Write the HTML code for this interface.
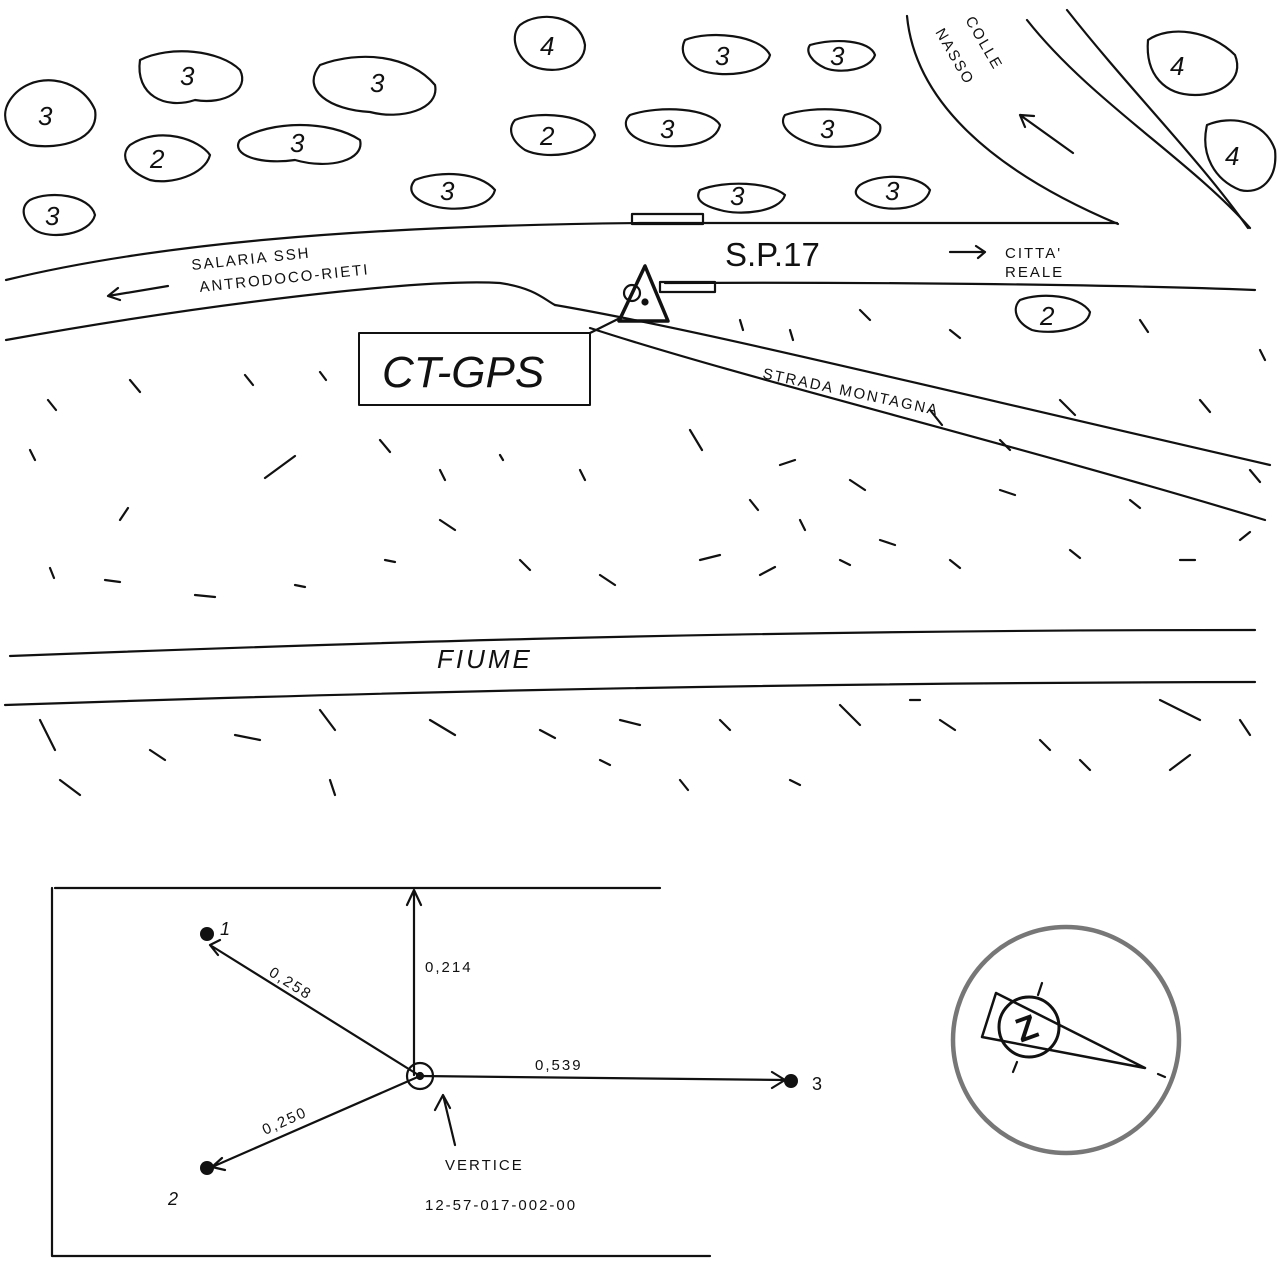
<!DOCTYPE html>
<html><head><meta charset="utf-8"><style>
html,body{margin:0;padding:0;background:#fff}
svg{display:block}
text{font-family:"Liberation Sans",sans-serif;fill:#111}
.h{font-family:"Liberation Sans",sans-serif;font-size:15px;letter-spacing:2px}
.t{font-family:"Liberation Sans",sans-serif;font-size:26px;font-style:italic}
</style></head><body>
<svg width="1288" height="1275" viewBox="0 0 1288 1275" xmlns="http://www.w3.org/2000/svg">
<g fill="none" stroke="#111" stroke-width="2.2" stroke-linecap="round" stroke-linejoin="round">
<path d="M6,280 C150,245 350,226 640,223 L1117,223"/>
<path d="M6,340 C200,305 420,278 500,283 C535,288 545,300 555,305"/>
<path d="M665,283 C850,282 1100,284 1255,290"/>
<rect x="632" y="214" width="71" height="10"/>
<rect x="660" y="282" width="55" height="10"/>
<path d="M555,305 C700,330 900,380 1270,465"/>
<path d="M590,328 C750,380 1000,440 1265,520"/>
<path d="M645,266 L619,321 L668,321 Z" stroke-width="3.5"/>
<circle cx="645" cy="302" r="2.5" fill="#111"/>
<circle cx="632" cy="293" r="8"/>
<line x1="590" y1="333" x2="622" y2="317"/>
<rect x="359" y="333" width="231" height="72" stroke-width="2"/>
<path d="M907,16 C915,100 990,170 1118,224"/>
<path d="M1027,20 C1090,100 1190,160 1250,228"/>
<path d="M1067,10 C1130,90 1200,160 1248,228"/>
<path d="M1073,153 L1020,115 M1020,115 L1034,116 M1020,115 L1025,127"/>
<path d="M950,252 L985,252 M976,246 L985,252 L978,258"/>
<path d="M108,296 L168,286 M118,288 L108,296 L120,300"/>
<path d="M10,656 C300,645 700,630 1255,630"/>
<path d="M5,705 C300,695 700,683 1255,682"/>
<path d="M10,100 C30,70 80,75 95,110 C100,140 60,150 30,145 C5,135 0,115 10,100Z"/>
<path d="M140,60 C170,45 220,50 240,70 C250,90 225,105 195,100 C165,110 135,95 140,60Z"/>
<path d="M320,65 C360,50 410,55 435,85 C440,110 400,120 370,112 C330,110 300,90 320,65Z"/>
<path d="M130,145 C160,125 200,140 210,155 C205,175 170,185 150,180 C125,170 120,155 130,145Z"/>
<path d="M240,140 C270,120 330,120 360,140 C365,160 330,170 295,160 C260,165 230,155 240,140Z"/>
<path d="M30,200 C50,190 90,195 95,215 C90,235 50,240 35,230 C22,220 20,207 30,200Z"/>
<path d="M520,25 C540,10 580,15 585,45 C585,70 550,75 530,65 C515,55 510,35 520,25Z"/>
<path d="M515,120 C540,110 590,115 595,135 C590,155 545,160 525,150 C510,140 508,128 515,120Z"/>
<path d="M415,180 C440,170 480,172 495,190 C490,210 450,212 430,205 C410,198 408,188 415,180Z"/>
<path d="M685,40 C710,30 760,35 770,55 C765,75 720,78 700,70 C683,62 680,50 685,40Z"/>
<path d="M630,115 C660,105 710,108 720,125 C715,148 670,150 645,142 C625,135 622,122 630,115Z"/>
<path d="M785,115 C815,105 865,108 880,125 C885,145 840,150 815,145 C790,138 778,125 785,115Z"/>
<path d="M700,190 C725,180 770,182 785,195 C780,212 740,216 720,210 C700,205 695,198 700,190Z"/>
<path d="M860,185 C880,172 920,175 930,190 C925,210 890,212 872,205 C855,198 852,192 860,185Z"/>
<path d="M810,45 C835,38 870,40 875,55 C870,70 840,74 825,68 C812,62 805,52 810,45Z"/>
<path d="M1148,40 C1170,25 1210,30 1235,55 C1245,80 1220,95 1195,95 C1165,95 1145,75 1148,40Z"/>
<path d="M1207,125 C1230,115 1265,120 1275,150 C1278,180 1260,195 1240,190 C1215,180 1200,155 1207,125Z"/>
<path d="M1020,300 C1040,292 1080,295 1090,312 C1088,330 1050,335 1032,330 C1015,322 1012,308 1020,300Z"/>
<path d="M48,400 l8,10 M130,380 l10,12 M245,375 l8,10 M320,372 l6,8 M30,450 l5,10 M120,520 l8,-12 M265,478 l30,-22 M50,568 l4,10 M105,580 l15,2 M195,595 l20,2 M295,585 l10,2 M385,560 l10,2 M440,520 l15,10 M520,560 l10,10 M600,575 l15,10 M700,560 l20,-5 M760,575 l15,-8 M840,560 l10,5 M880,540 l15,5 M950,560 l10,8 M1070,550 l10,8 M1180,560 l15,0 M1240,540 l10,-8 M1260,350 l5,10 M1140,320 l8,12 M1200,400 l10,12 M1060,400 l15,15 M1250,470 l10,12 M740,320 l3,10 M790,330 l3,10 M860,310 l10,10 M950,330 l10,8 M930,410 l12,15 M1000,440 l10,10 M690,430 l12,20 M750,500 l8,10 M800,520 l5,10 M850,480 l15,10 M1000,490 l15,5 M1130,500 l10,8 M780,465 l15,-5 M500,455 l3,5 M580,470 l5,10 M440,470 l5,10 M380,440 l10,12 M40,720 l15,30 M150,750 l15,10 M235,735 l25,5 M320,710 l15,20 M430,720 l25,15 M540,730 l15,8 M620,720 l20,5 M720,720 l10,10 M840,705 l20,20 M940,720 l15,10 M1040,740 l10,10 M1160,700 l40,20 M1240,720 l10,15 M1170,770 l20,-15 M1080,760 l10,10 M60,780 l20,15 M330,780 l5,15 M600,760 l10,5 M680,780 l8,10 M790,780 l10,5 M910,700 l10,0"/>
<path d="M55,888 L660,888 M52,888 L52,1256 L710,1256"/>
<path d="M414,1075 L414,890 M407,905 L414,890 L421,905"/>
<circle cx="420" cy="1076" r="13"/>
<circle cx="420" cy="1076" r="3" fill="#111"/>
<path d="M420,1076 L210,945 M220,940 L210,945 L218,955"/>
<path d="M420,1076 L212,1167 M222,1158 L212,1167 L225,1170"/>
<path d="M420,1076 L785,1080 M772,1072 L785,1080 L772,1088"/>
<path d="M455,1145 L443,1095 M435,1110 L443,1095 L450,1108"/>
<circle cx="1066" cy="1040" r="113" stroke="#777" stroke-width="4.5"/>
<circle cx="1029" cy="1027" r="30" stroke-width="3"/>
<path d="M996,993 L982,1037 M996,993 L1145,1068 L982,1037" stroke-width="2.5"/>
<path d="M1042,983 L1038,995 M1017,1062 L1013,1072 M1158,1074 L1165,1077"/>
</g>
<g class="t">
<text class="t" x="38" y="125">3</text><text class="t" x="180" y="85">3</text><text class="t" x="370" y="92">3</text>
<text class="t" x="150" y="168">2</text><text class="t" x="290" y="152">3</text><text class="t" x="45" y="225">3</text>
<text class="t" x="540" y="55">4</text><text class="t" x="540" y="145">2</text><text class="t" x="440" y="200">3</text>
<text class="t" x="715" y="65">3</text><text class="t" x="660" y="138">3</text><text class="t" x="820" y="138">3</text>
<text class="t" x="730" y="205">3</text><text class="t" x="885" y="200">3</text><text class="t" x="830" y="65">3</text>
<text class="t" x="1170" y="75">4</text><text class="t" x="1225" y="165">4</text><text class="t" x="1040" y="325">2</text>
</g>
<circle cx="207" cy="934" r="7" fill="#111"/>
<circle cx="207" cy="1168" r="7" fill="#111"/>
<circle cx="791" cy="1081" r="7" fill="#111"/>
<text x="1016" y="1039" font-size="34" font-weight="bold" transform="rotate(-20 1029 1027)">Z</text>
<text x="382" y="387" font-size="44" font-style="italic">CT-GPS</text>
<text x="725" y="266" font-size="33">S.P.17</text>
<text x="437" y="668" font-size="26" font-style="italic" letter-spacing="3">FIUME</text>
<text class="h" x="192" y="270" transform="rotate(-6 192 270)">SALARIA SSH</text>
<text class="h" x="200" y="292" transform="rotate(-6 200 292)">ANTRODOCO-RIETI</text>
<text class="h" x="1005" y="258">CITTA'</text>
<text class="h" x="1005" y="277">REALE</text>
<text class="h" x="762" y="378" transform="rotate(12 762 378)">STRADA MONTAGNA</text>
<text class="h" x="965" y="20" transform="rotate(60 965 20)">COLLE</text>
<text class="h" x="935" y="32" transform="rotate(60 935 32)">NASSO</text>
<text x="220" y="935" font-size="18" font-style="italic">1</text>
<text x="168" y="1205" font-size="18" font-style="italic">2</text>
<text x="812" y="1090" font-size="18">3</text>
<text class="h" x="425" y="972">0,214</text>
<text class="h" x="268" y="975" transform="rotate(32 268 975)">0,258</text>
<text class="h" x="265" y="1135" transform="rotate(-24 265 1135)">0,250</text>
<text class="h" x="535" y="1070">0,539</text>
<text class="h" x="445" y="1170">VERTICE</text>
<text class="h" x="425" y="1210">12-57-017-002-00</text>
</svg>
</body></html>
